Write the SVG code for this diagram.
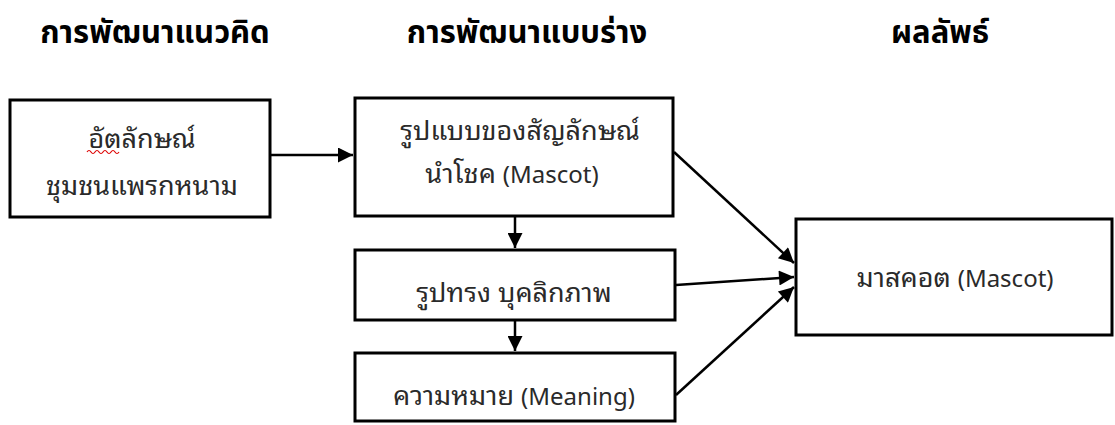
<svg xmlns="http://www.w3.org/2000/svg" width="1115" height="425" viewBox="0 0 1115 425">
<style>
.box{fill:#fff;stroke:#000;stroke-width:3}
.hd{font-family:"Noto Sans Thai","Noto Sans","DejaVu Sans",sans-serif;font-weight:bold;font-size:31px;fill:#000;text-anchor:middle}
.tx{font-family:"Noto Sans Thai Looped","Noto Sans Thai","Noto Sans","DejaVu Sans",sans-serif;font-size:27px;fill:#2a2a2a;text-anchor:middle}
.lt{font-size:24px}
.cn{stroke:#000;stroke-width:2.5;fill:none;marker-end:url(#ah)}
</style>
<defs>
<marker id="ah" viewBox="0 0 10 10" refX="10" refY="5" markerWidth="7" markerHeight="6" markerUnits="strokeWidth" orient="auto">
<path d="M0,0 L10,5 L0,10 z" fill="#000"/>
</marker>
</defs>
<g id="headings">
<text class="hd" x="155" y="43">การพัฒนาแนวคิด</text>
<text class="hd" x="527" y="43">การพัฒนาแบบร่าง</text>
<text class="hd" x="940" y="43">ผลลัพธ์</text>
</g>
<g id="node-identity">
<rect class="box" x="10" y="100" width="260" height="117"/>
<text class="tx" x="142" y="148">อัตลักษณ์</text>
<text class="tx" x="142" y="195">ชุมชนแพรกหนาม</text>
<path d="M87,152 q2,-3 4,0 t4,0 t4,0 t4,0 t4,0 t4,0 t4,0 t4,0" fill="none" stroke="#d00" stroke-width="1.2"/>
</g>
<g id="node-symbol">
<rect class="box" x="355" y="98" width="318" height="118"/>
<text class="tx" x="520" y="140">รูปแบบของสัญลักษณ์</text>
<text class="tx" x="512" y="183">นำโชค <tspan class="lt">(Mascot)</tspan></text>
</g>
<g id="node-shape">
<rect class="box" x="355" y="250" width="320" height="70"/>
<text class="tx" x="514" y="302">รูปทรง บุคลิกภาพ</text>
</g>
<g id="node-meaning">
<rect class="box" x="355" y="353" width="320" height="68"/>
<text class="tx" x="514" y="405">ความหมาย  <tspan class="lt">(Meaning)</tspan></text>
</g>
<g id="node-mascot">
<rect class="box" x="796" y="219" width="316" height="116"/>
<text class="tx" x="955" y="287">มาสคอต <tspan class="lt">(Mascot)</tspan></text>
</g>
<g id="connectors">
<line class="cn" x1="271" y1="155" x2="353" y2="155"/>
<line class="cn" x1="515" y1="217" x2="515" y2="248"/>
<line class="cn" x1="515" y1="321" x2="515" y2="351"/>
<line class="cn" x1="674" y1="152" x2="794" y2="263"/>
<line class="cn" x1="676" y1="285" x2="794" y2="277"/>
<line class="cn" x1="676" y1="395" x2="794" y2="287"/>
</g>
</svg>
